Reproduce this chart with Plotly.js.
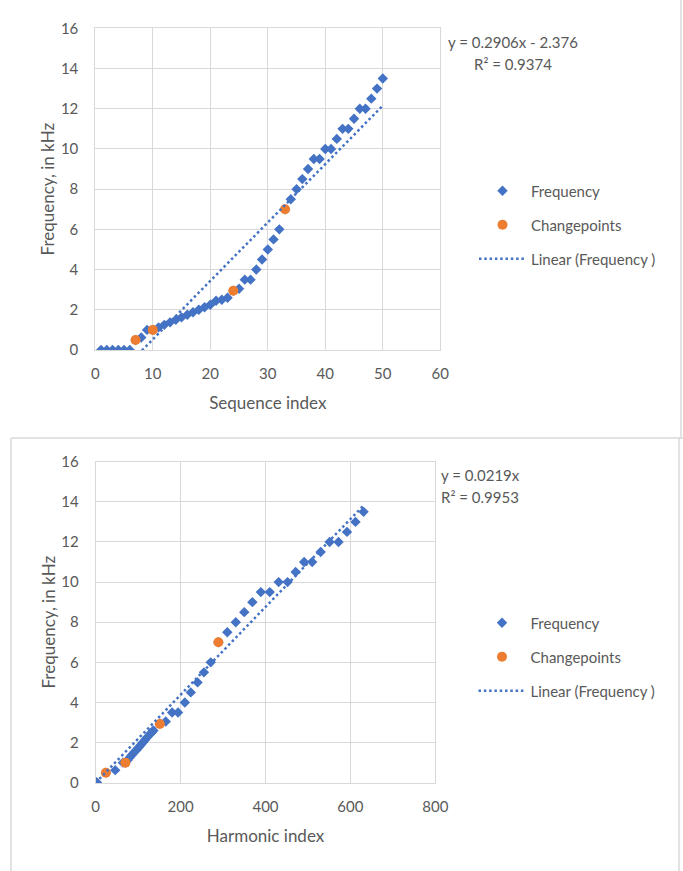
<!DOCTYPE html>
<html>
<head>
<meta charset="utf-8">
<script src="https://cdn.plot.ly/plotly-3.0.1.min.js"></script>
<style>
  html, body { margin: 0; padding: 0; background: #ffffff; }
  #chart { width: 683px; height: 871px; }
</style>
</head>
<body>
<div id="chart"></div>
<script>
// ---- Data ----
const seqIndex = [1,2,3,4,5,6,7,8,9,10,11,12,13,14,15,16,17,18,19,20,21,22,23,24,25,
                  26,27,28,29,30,31,32,33,34,35,36,37,38,39,40,41,42,43,44,45,46,47,48,49,50];
const frequency = [0,0,0,0,0,0,0.5,0.625,1.0,1.0,1.125,1.25,1.375,1.5,1.625,1.75,1.875,2.0,2.125,2.25,
                   2.45,2.5,2.6,2.95,3.05,3.5,3.5,4.0,4.5,5.0,5.5,6.0,7.0,7.5,8.0,8.5,9.0,9.5,9.5,10,
                   10,10.5,11,11,11.5,12,12,12.5,13,13.5];
const harmonicIndex = [1,1,2,2,3,3,24,46,64,70,75,80,85,90,96,101,106,111,116,121,
                       129,132,136,151,165,180,194,210,224,240,255,271,289,310,330,350,369,389,410,431,
                       452,471,491,510,530,551,572,592,612,631];
const cpSeqIndex = [7,10,24,33];
const cpSeqFreq = [0.5,1.0,2.95,7.0];
const cpHarmIndex = [24,70,151,289];
const cpHarmFreq = [0.5,1.0,2.93,7.0];
// Trendline coefficients shown on the chart
const trendSeq = {slope: 0.2906, intercept: -2.376, r2: 0.9374};
const trendHarm = {slope: 0.0219, intercept: 0, r2: 0.9953};

// ---- Styles ----
const W = 683, H = 871;
const BLUE = '#4472C4', ORANGE = '#ED7D31', GRID = '#d9d9d9', TXT = '#595959';
const FONT = 'Lato, "Open Sans", sans-serif';
const px = x => x / W;
const py = y => 1 - y / H;

const seqEnds = [seqIndex[0], seqIndex[seqIndex.length - 1]];
const harmEnds = [0, harmonicIndex[harmonicIndex.length - 1]];

const traces = [
  {x: seqIndex, y: frequency, type: 'scatter', mode: 'markers', name: 'Frequency',
   marker: {symbol: 'diamond', size: 8, color: BLUE}, xaxis: 'x', yaxis: 'y',
   legend: 'legend', legendgroup: 'a'},
  {x: cpSeqIndex, y: cpSeqFreq, type: 'scatter', mode: 'markers', name: 'Changepoints',
   marker: {symbol: 'circle', size: 10, color: ORANGE}, xaxis: 'x', yaxis: 'y',
   legend: 'legend', legendgroup: 'b'},
  {x: seqEnds, y: seqEnds.map(v => trendSeq.slope * v + trendSeq.intercept), type: 'scatter', mode: 'lines',
   name: 'Linear (Frequency )', line: {color: BLUE, width: 2.5, dash: '2.5px,2.8px'},
   xaxis: 'x', yaxis: 'y', legend: 'legend', legendgroup: 'c'},

  {x: harmonicIndex, y: frequency, type: 'scatter', mode: 'markers', name: 'Frequency',
   marker: {symbol: 'diamond', size: 8, color: BLUE}, xaxis: 'x2', yaxis: 'y2',
   legend: 'legend2', legendgroup: 'd'},
  {x: cpHarmIndex, y: cpHarmFreq, type: 'scatter', mode: 'markers', name: 'Changepoints',
   marker: {symbol: 'circle', size: 10, color: ORANGE}, xaxis: 'x2', yaxis: 'y2',
   legend: 'legend2', legendgroup: 'e'},
  {x: harmEnds, y: harmEnds.map(v => trendHarm.slope * v + trendHarm.intercept), type: 'scatter', mode: 'lines',
   name: 'Linear (Frequency )', line: {color: BLUE, width: 2.5, dash: '2.5px,2.8px'},
   xaxis: 'x2', yaxis: 'y2', legend: 'legend2', legendgroup: 'f'}
];

function xAxis(domain, range, dtick, title, anchor) {
  return {domain: domain, range: range, dtick: dtick, tick0: 0, anchor: anchor,
    showgrid: true, gridcolor: GRID, gridwidth: 1, zeroline: false,
    showline: true, linecolor: GRID, linewidth: 1, mirror: true,
    ticks: '', ticklabelstandoff: 10,
    tickfont: {family: FONT, size: 15, color: TXT},
    title: {text: title, font: {family: FONT, size: 17, color: TXT}, standoff: 16},
    automargin: false, fixedrange: true};
}
function yAxis(domain, anchor) {
  return {domain: domain, range: [0, 16], dtick: 2, tick0: 0, anchor: anchor,
    showgrid: true, gridcolor: GRID, gridwidth: 1, zeroline: false,
    showline: true, linecolor: GRID, linewidth: 1, mirror: true,
    ticks: '', ticklabelstandoff: 13,
    tickfont: {family: FONT, size: 15, color: TXT},
    title: {text: 'Frequency, in kHz', font: {family: FONT, size: 17, color: TXT}, standoff: 1},
    automargin: false, fixedrange: true};
}

function eqLines(t) {
  return t.intercept === 0 ? 'y = ' + t.slope + 'x'
    : 'y = ' + t.slope + 'x - ' + Math.abs(t.intercept);
}

const legendBase = {xanchor: 'left', yanchor: 'top', bgcolor: 'rgba(0,0,0,0)',
  font: {family: FONT, size: 15, color: TXT}, traceorder: 'grouped', tracegroupgap: 11.5,
  itemwidth: 47};

const layout = {
  width: W, height: H,
  margin: {l: 0, r: 0, t: 0, b: 0},
  paper_bgcolor: '#ffffff', plot_bgcolor: '#ffffff',
  showlegend: true,
  xaxis: xAxis([px(95.3), px(440.3)], [0, 60], 10, 'Sequence index', 'y'),
  yaxis: yAxis([py(350), py(28.3)], 'x'),
  xaxis2: xAxis([px(95.7), px(435.3)], [0, 800], 200, 'Harmonic index', 'y2'),
  yaxis2: yAxis([py(782.7), py(461.7)], 'x2'),
  legend: Object.assign({x: px(474), y: py(174.5)}, legendBase),
  legend2: Object.assign({x: px(473.5), y: py(606.5)}, legendBase),
  annotations: [
    {xref: 'paper', yref: 'paper', x: px(446), y: py(42), xanchor: 'left', yanchor: 'middle',
     text: eqLines(trendSeq), showarrow: false, font: {family: FONT, size: 15, color: TXT}},
    {xref: 'paper', yref: 'paper', x: px(472), y: py(64.5), xanchor: 'left', yanchor: 'middle',
     text: 'R² = ' + trendSeq.r2, showarrow: false, font: {family: FONT, size: 15, color: TXT}},
    {xref: 'paper', yref: 'paper', x: px(439.5), y: py(475), xanchor: 'left', yanchor: 'middle',
     text: eqLines(trendHarm), showarrow: false, font: {family: FONT, size: 15, color: TXT}},
    {xref: 'paper', yref: 'paper', x: px(439.5), y: py(497), xanchor: 'left', yanchor: 'middle',
     text: 'R² = ' + trendHarm.r2, showarrow: false, font: {family: FONT, size: 15, color: TXT}}
  ],
  shapes: [
    {type: 'line', xref: 'paper', yref: 'paper', x0: px(681), x1: px(681), y0: py(0), y1: py(438),
     line: {color: GRID, width: 1.5}},
    {type: 'line', xref: 'paper', yref: 'paper', x0: px(11), x1: px(683), y0: py(438), y1: py(438),
     line: {color: GRID, width: 1.5}},
    {type: 'line', xref: 'paper', yref: 'paper', x0: px(11), x1: px(11), y0: py(438), y1: py(871),
     line: {color: GRID, width: 1.5}},
    {type: 'line', xref: 'paper', yref: 'paper', x0: px(679), x1: px(679), y0: py(438), y1: py(871),
     line: {color: GRID, width: 1.5}}
  ]
};

Plotly.newPlot('chart', traces, layout, {displayModeBar: false, staticPlot: true});
</script>
</body>
</html>
